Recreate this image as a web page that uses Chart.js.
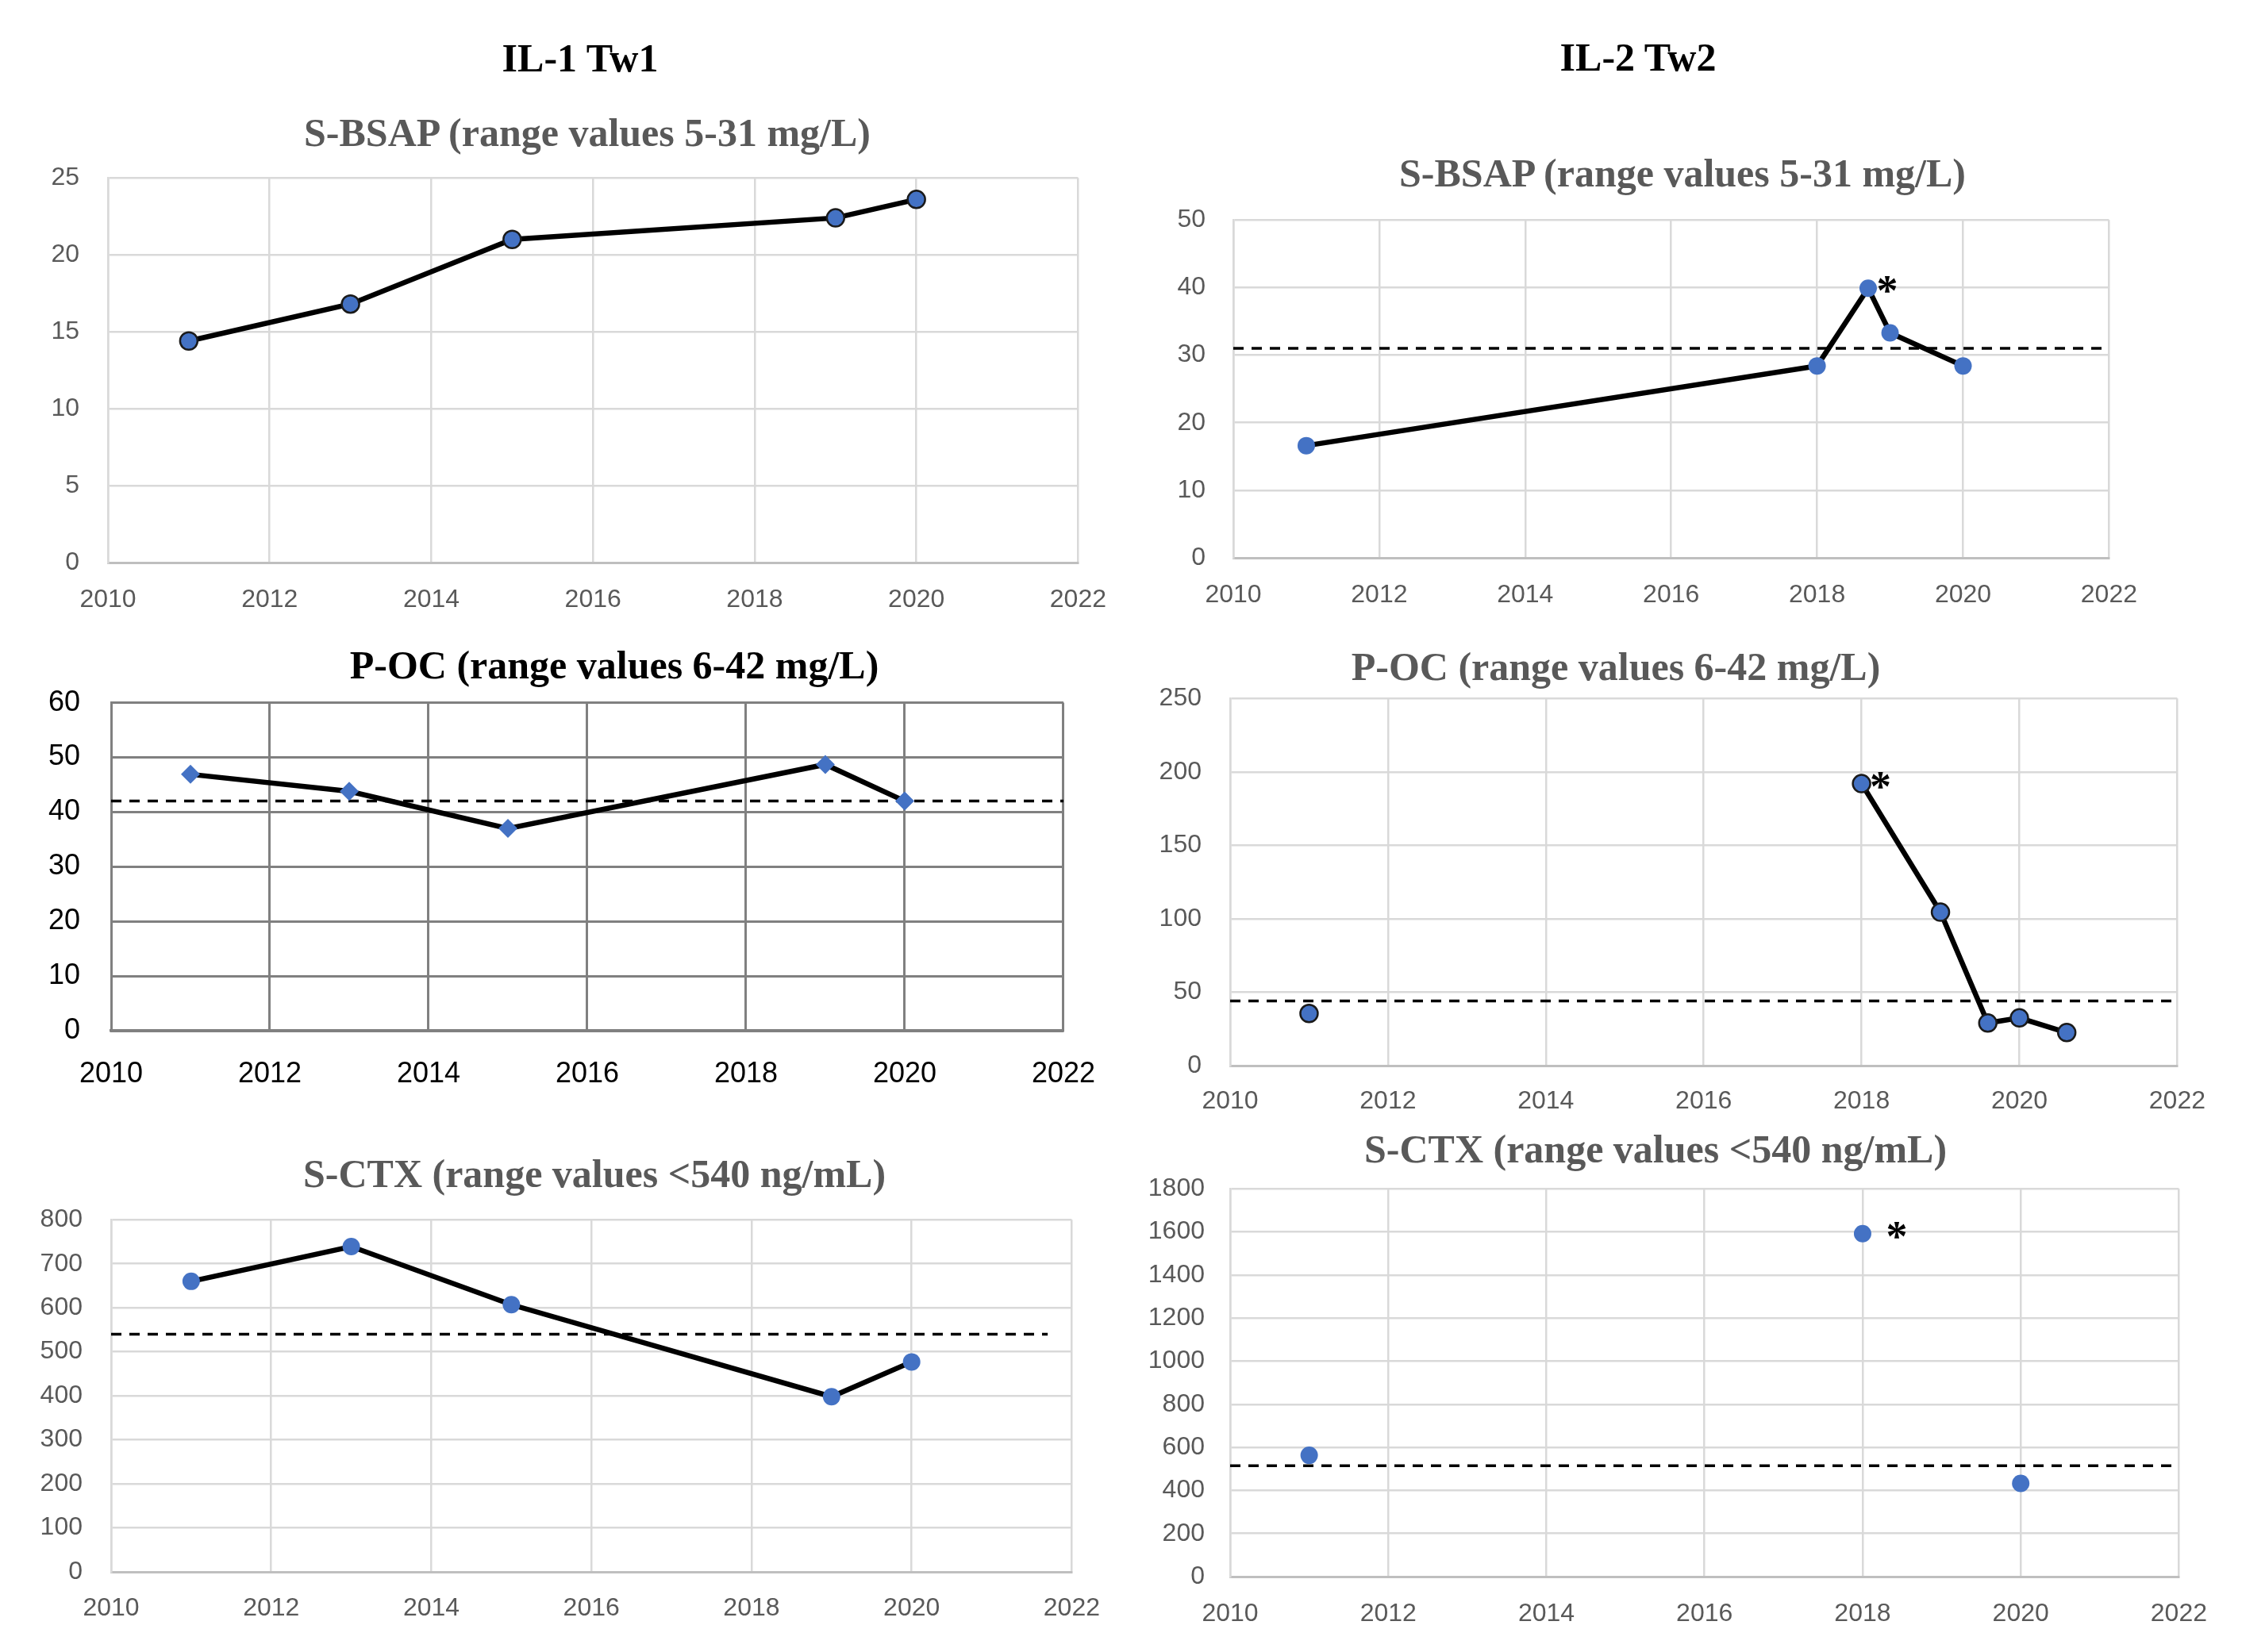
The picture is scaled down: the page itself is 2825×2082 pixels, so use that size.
<!DOCTYPE html>
<html>
<head>
<meta charset="utf-8">
<script src="https://cdn.jsdelivr.net/npm/chart.js@4.4.1/dist/chart.umd.min.js"></script>
<style>
  body { margin: 0; background: #fff; }
  #page { position: relative; width: 2825px; height: 2082px; overflow: hidden; }
  canvas { position: absolute; }
  .title { position: absolute; transform: translate(-50%, -50%); white-space: nowrap;
           font-family: "Liberation Serif", "Times New Roman", serif; font-weight: bold; }
  .head { font-size: 50px; color: #000; }
  .sub { font-size: 50px; color: #595959; }
</style>
</head>
<body>
<div id="page">
  <div class="title head" style="left:731px; top:73px;">IL-1 Tw1</div>
  <div class="title head" style="left:2064px; top:72px;">IL-2 Tw2</div>
  <div class="title sub" style="left:740px; top:167px;">S-BSAP (range values 5-31 mg/L)</div>
  <div class="title sub" style="left:2120px; top:218px;">S-BSAP (range values 5-31 mg/L)</div>
  <div class="title sub" style="left:774px; top:838px; color:#000;">P-OC (range values 6-42 mg/L)</div>
  <div class="title sub" style="left:2036px; top:840px;">P-OC (range values 6-42 mg/L)</div>
  <div class="title sub" style="left:749px; top:1479px;">S-CTX (range values &lt;540 ng/mL)</div>
  <div class="title sub" style="left:2086px; top:1448px;">S-CTX (range values &lt;540 ng/mL)</div>
  <canvas id="bsap1"></canvas>
  <canvas id="bsap2"></canvas>
  <canvas id="oc1"></canvas>
  <canvas id="oc2"></canvas>
  <canvas id="ctx1"></canvas>
  <canvas id="ctx2"></canvas>
</div>
<script>
// x axis (years) shared by every panel
const yearTicks = [2010, 2012, 2014, 2016, 2018, 2020, 2022];

// IL-1 Tw1
const bsap1Years = [2011, 2013, 2015, 2019, 2020];
const bsap1Values = [14.4, 16.8, 21.0, 22.4, 23.6];
const bsap1YTicks = [0, 5, 10, 15, 20, 25];

const oc1Years = [2011, 2013, 2015, 2019, 2020];
const oc1Values = [46.9, 43.8, 37.0, 48.7, 42.0];
const oc1YTicks = [0, 10, 20, 30, 40, 50, 60];
const oc1Limit = 42;
const oc1LimitSpan = [2010, 2022];

const ctx1Years = [2011, 2013, 2015, 2019, 2020];
const ctx1Values = [660, 739, 607, 398, 477];
const ctx1YTicks = [0, 100, 200, 300, 400, 500, 600, 700, 800];
const ctx1Limit = 540;
const ctx1LimitSpan = [2010, 2021.7];

// IL-2 Tw2
const bsap2Years = [2011, 2018, 2018.7, 2019, 2020];
const bsap2Values = [16.6, 28.4, 39.9, 33.3, 28.4];
const bsap2YTicks = [0, 10, 20, 30, 40, 50];
const bsap2Limit = 31;
const bsap2LimitSpan = [2010, 2022];
const bsap2Starred = [2];

const oc2Years = [2011, 2018, 2019, 2019.6, 2020, 2020.6];
const oc2Values = [35.5, 192, 104.5, 29, 32.5, 22.5];
const oc2YTicks = [0, 50, 100, 150, 200, 250];
const oc2Limit = 44;
const oc2LimitSpan = [2010, 2022];
const oc2Starred = [1];
const oc2Breaks = [0];      // no line drawn after these points

const ctx2Years = [2011, 2018, 2020];
const ctx2Values = [563, 1592, 433];
const ctx2YTicks = [0, 200, 400, 600, 800, 1000, 1200, 1400, 1600, 1800];
const ctx2Limit = 515;
const ctx2LimitSpan = [2010, 2022];
const ctx2Starred = [1];
const ctx2Breaks = [0, 1];

const BLUE = '#4472C4';
const Y_W = 140, PAD_T = 40, PAD_R = 60, X_H = 70;
const TOP_FIX = 14;   // chart area came out this much lower than asked

// draws the "*" next to flagged points
const starPlugin = {
  id: 'stars',
  afterDatasetsDraw(chart, args, opts) {
    if (!opts.indices || !opts.indices.length) return;
    const meta = chart.getDatasetMeta(0);
    const c = chart.ctx;
    c.save();
    c.font = 'bold 54px "Liberation Serif"';
    c.fillStyle = '#000';
    c.textAlign = 'center';
    c.textBaseline = 'alphabetic';
    opts.indices.forEach(i => {
      const p = meta.data[i];
      c.fillText('*', p.x + opts.dx, p.y + opts.dy + 27);
    });
    c.restore();
  }
};

function makeChart(id, box, s) {
  const canvas = document.getElementById(id);
  const w = (box.R - box.L) + Y_W + PAD_R;
  const h = (box.B - box.T) + PAD_T + X_H + TOP_FIX;
  canvas.width = w;
  canvas.height = h;
  canvas.style.left = (box.L - Y_W) + 'px';
  canvas.style.top = (box.T - PAD_T - TOP_FIX) + 'px';
  canvas.style.width = w + 'px';
  canvas.style.height = h + 'px';

  const breaks = s.breaks || [];
  const datasets = [{
    data: s.years.map((x, i) => ({ x: x, y: s.values[i] })),
    borderColor: '#000',
    borderWidth: 6.5,
    pointStyle: s.marker || 'circle',
    pointRadius: s.radius || 11,
    pointBackgroundColor: BLUE,
    pointBorderColor: s.outline ? '#1a1a1a' : BLUE,
    pointBorderWidth: s.outline ? 2.5 : 0,
    segment: {
      borderColor: c => breaks.includes(c.p0DataIndex) ? 'rgba(0,0,0,0)' : '#000'
    },
    order: 0
  }];
  if (s.limit !== undefined) {
    datasets.push({
      data: s.limitSpan.map(x => ({ x: x, y: s.limit })),
      borderColor: '#000',
      borderWidth: 3.5,
      borderDash: [13, 10],
      pointRadius: 0,
      order: 1
    });
  }

  const tickColor = s.tickColor || '#595959';
  const tickSize = s.tickSize || 32;
  const gridColor = s.gridColor || '#d9d9d9';
  const gridWidth = s.gridWidth || 2.5;

  new Chart(canvas, {
    type: 'line',
    data: { datasets: datasets },
    plugins: [starPlugin],
    options: {
      responsive: false,
      animation: false,
      devicePixelRatio: 1,
      layout: { autoPadding: false, padding: { top: PAD_T, right: PAD_R, left: 0, bottom: 0 } },
      plugins: {
        legend: { display: false },
        tooltip: { enabled: false },
        stars: { indices: s.starred || [], dx: s.starDx || 24, dy: s.starDy || -6 }
      },
      scales: {
        x: {
          type: 'linear',
          min: yearTicks[0],
          max: yearTicks[yearTicks.length - 1],
          afterFit: a => { a.height = X_H; },
          afterBuildTicks: a => { a.ticks = yearTicks.map(v => ({ value: v })); },
          ticks: {
            color: tickColor,
            font: { family: 'Liberation Sans', size: tickSize },
            padding: box.xPad,
            maxRotation: 0,
            autoSkip: false,
            callback: v => String(v)
          },
          grid: { color: gridColor, lineWidth: gridWidth, drawTicks: false },
          border: { color: s.axisColor || '#bfbfbf', width: s.axisWidth || 3 }
        },
        y: {
          min: s.yTicks[0],
          max: s.yTicks[s.yTicks.length - 1],
          afterFit: a => { a.width = Y_W; },
          afterBuildTicks: a => { a.ticks = s.yTicks.map(v => ({ value: v })); },
          ticks: {
            color: tickColor,
            font: { family: 'Liberation Sans', size: tickSize },
            padding: box.L - box.labelR,
            autoSkip: false,
            callback: v => String(v)
          },
          grid: { color: gridColor, lineWidth: gridWidth, drawTicks: false },
          border: { color: gridColor, width: gridWidth }
        }
      }
    }
  });
}

makeChart('bsap1', { L: 136, R: 1362, T: 223, B: 709, labelR: 100, xPad: 28 }, {
  years: bsap1Years, values: bsap1Values, yTicks: bsap1YTicks, outline: true
});
makeChart('bsap2', { L: 1554, R: 2661, T: 277, B: 703, labelR: 1519, xPad: 28 }, {
  years: bsap2Years, values: bsap2Values, yTicks: bsap2YTicks,
  limit: bsap2Limit, limitSpan: bsap2LimitSpan, starred: bsap2Starred
});
makeChart('oc1', { L: 140, R: 1353, T: 879, B: 1299, labelR: 101, xPad: 33 }, {
  years: oc1Years, values: oc1Values, yTicks: oc1YTicks,
  limit: oc1Limit, limitSpan: oc1LimitSpan, marker: 'rectRot', radius: 12,
  tickColor: '#000', tickSize: 36, gridColor: '#808080', gridWidth: 3,
  axisColor: '#808080', axisWidth: 3.5
});
makeChart('oc2', { L: 1550, R: 2745, T: 879, B: 1343, labelR: 1514, xPad: 26 }, {
  years: oc2Years, values: oc2Values, yTicks: oc2YTicks,
  limit: oc2Limit, limitSpan: oc2LimitSpan, starred: oc2Starred, breaks: oc2Breaks, outline: true
});
makeChart('ctx1', { L: 140, R: 1353, T: 1536, B: 1981, labelR: 104, xPad: 27 }, {
  years: ctx1Years, values: ctx1Values, yTicks: ctx1YTicks,
  limit: ctx1Limit, limitSpan: ctx1LimitSpan
});
makeChart('ctx2', { L: 1550, R: 2749, T: 1501, B: 1987, labelR: 1518, xPad: 28 }, {
  years: ctx2Years, values: ctx2Values, yTicks: ctx2YTicks,
  limit: ctx2Limit, limitSpan: ctx2LimitSpan, starred: ctx2Starred, breaks: ctx2Breaks,
  starDx: 43, starDy: 0
});
</script>
</body>
</html>
